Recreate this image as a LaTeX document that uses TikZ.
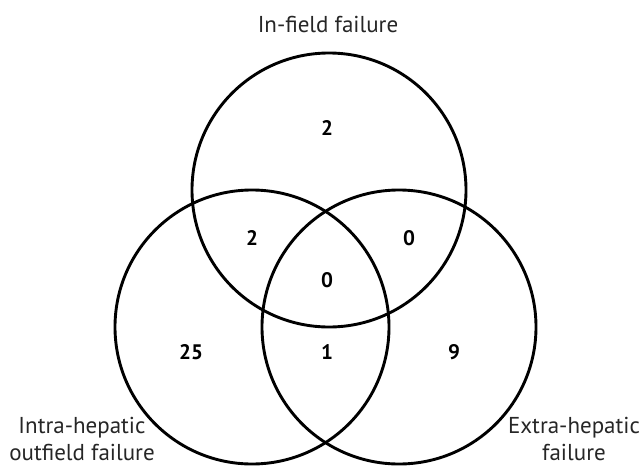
\documentclass[tikz,border=0pt]{standalone}
\usepackage{fontspec}
\setmainfont{PT Sans}
\begin{document}
\begin{tikzpicture}[x=1pt,y=-1pt,
  set/.style={draw=black,line width=2.9pt,circle,minimum size=274pt,inner sep=0pt},
  num/.style={font=\fontsize{21}{24}\selectfont\bfseries},
  lab/.style={font=\fontsize{23}{27}\selectfont,text=black!85,align=center,inner sep=0pt}]
\useasboundingbox (0,0) rectangle (643,466);
\node[set] (top) at (329,190) {};
\node[set] (left) at (252,327) {};
\node[set] (right) at (399,327) {};
\node[lab] (ltop) at (328,24) {In-field failure};
\node[lab] (lleft) at (82,439) {Intra-hepatic\\outfield failure};
\node[lab] (lright) at (574,439) {Extra-hepatic\\failure};
\node[num] (n1) at (327,128) {2};
\node[num] (n2) at (252,238) {2};
\node[num] (n3) at (409,238) {0};
\node[num] (n4) at (327,280) {0};
\node[num] (n5) at (191,352) {25};
\node[num] (n6) at (327,352) {1};
\node[num] (n7) at (454,352) {9};
\end{tikzpicture}
\end{document}
